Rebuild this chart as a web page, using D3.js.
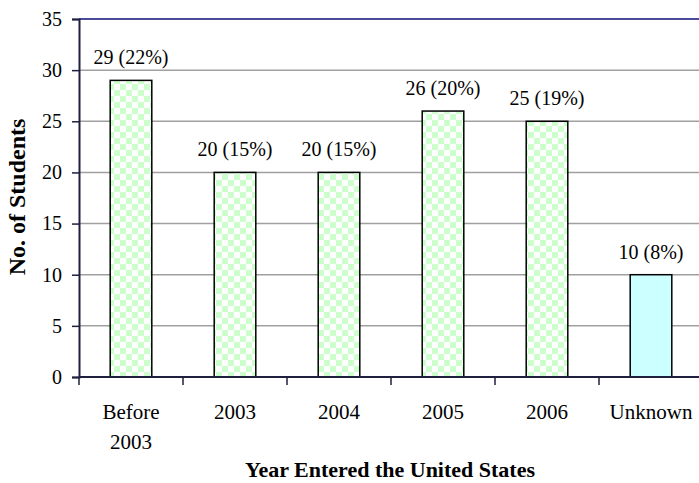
<!DOCTYPE html>
<html><head><meta charset="utf-8">
<script src="https://cdn.jsdelivr.net/npm/d3@7"></script>
<style>body{margin:0;background:#fff;} svg{display:block;} text{font-family:"Liberation Serif","Times New Roman",serif;}</style>
</head><body>
<svg id="c" width="699" height="483"></svg>
<script>
const categories = ["Before 2003", "2003", "2004", "2005", "2006", "Unknown"];
const values = [29, 20, 20, 26, 25, 10];
const percents = ["22%", "15%", "15%", "20%", "19%", "8%"];
const yTicks = [0, 5, 10, 15, 20, 25, 30, 35];

const svg = d3.select("#c");
const pLeft = 79, pRight = 703, pTop = 19, pBottom = 377;

const x = d3.scaleBand().domain(categories).range([pLeft, pRight]).paddingInner(0.6).paddingOuter(0.3);
const y = d3.scaleLinear().domain([0, 35]).range([pBottom, pTop]);

const defs = svg.append("defs");
const pat = defs.append("pattern").attr("id", "chk").attr("patternUnits", "userSpaceOnUse")
  .attr("width", 12).attr("height", 12).attr("x", 0).attr("y", 0);
pat.append("rect").attr("width", 12).attr("height", 12).attr("fill", "#ffffff");
pat.append("rect").attr("width", 6).attr("height", 6).attr("fill", "#ccffcc");
pat.append("rect").attr("x", 6).attr("y", 6).attr("width", 6).attr("height", 6).attr("fill", "#ccffcc");

// gridlines
svg.append("g").selectAll("line").data(yTicks.filter(d => d > 0 && d < 35)).join("line")
  .attr("x1", pLeft).attr("x2", 699).attr("y1", d => y(d)).attr("y2", d => y(d))
  .attr("stroke", "#a0a0a0").attr("stroke-width", 1.5);
// top border
svg.append("line").attr("x1", pLeft).attr("x2", 699).attr("y1", y(35)).attr("y2", y(35))
  .attr("stroke", "#4b4b9b").attr("stroke-width", 2);

// bars
svg.append("g").selectAll("rect").data(categories).join("rect")
  .attr("x", d => x(d)).attr("width", x.bandwidth())
  .attr("y", (d, i) => y(values[i])).attr("height", (d, i) => y(0) - y(values[i]))
  .attr("fill", d => d === "Unknown" ? "#ccffff" : "url(#chk)")
  .attr("stroke", "#000").attr("stroke-width", 1.5);

// value labels
svg.append("g").selectAll("text").data(categories).join("text")
  .attr("x", d => x(d) + x.bandwidth() / 2).attr("y", (d, i) => y(values[i]) - 16)
  .attr("text-anchor", "middle").attr("font-size", 20).attr("fill", "#000")
  .text((d, i) => values[i] + " (" + percents[i] + ")");

// y axis
const yAxis = d3.axisLeft(y).tickValues(yTicks).tickSize(7).tickPadding(10);
const gy = svg.append("g").attr("transform", `translate(${pLeft},0)`).call(yAxis);
gy.select(".domain").attr("stroke", "#1f1f3f").attr("stroke-width", 2);
gy.selectAll(".tick line").attr("stroke", "#1f1f3f").attr("stroke-width", 1.5);
gy.selectAll(".tick text").attr("font-size", 20).attr("fill", "#000")
  .attr("font-family", '"Liberation Serif",serif');

// x axis
const gx = svg.append("g");
gx.append("line").attr("x1", pLeft).attr("x2", 699).attr("y1", pBottom).attr("y2", pBottom)
  .attr("stroke", "#1f1f3f").attr("stroke-width", 2);
const bounds = categories.map(c => x(c) - x.step() * x.paddingInner() / 2);
bounds[0] = pLeft;
gx.selectAll("line.t").data(bounds.concat([pLeft + x.step() * 6])).join("line").attr("class", "t")
  .attr("x1", d => d).attr("x2", d => d).attr("y1", pBottom).attr("y2", pBottom + 8)
  .attr("stroke", "#1f1f3f").attr("stroke-width", 1.5);
const lbl = gx.selectAll("text").data(categories).join("text")
  .attr("text-anchor", "middle").attr("font-size", 21).attr("fill", "#000")
  .attr("transform", d => `translate(${x(d) + x.bandwidth() / 2},419)`);
lbl.each(function(d) {
  const parts = d === "Before 2003" ? ["Before", "2003"] : [d];
  d3.select(this).selectAll("tspan").data(parts).join("tspan")
    .attr("x", 0).attr("y", (p, i) => i * 30).text(p => p);
});

// titles
svg.append("text").attr("x", 390).attr("y", 477).attr("text-anchor", "middle")
  .attr("font-size", 22).attr("font-weight", "bold").text("Year Entered the United States");
svg.append("text").attr("transform", "translate(25,197) rotate(-90)").attr("text-anchor", "middle")
  .attr("font-size", 24).attr("font-weight", "bold").text("No. of Students");
</script>
</body></html>
